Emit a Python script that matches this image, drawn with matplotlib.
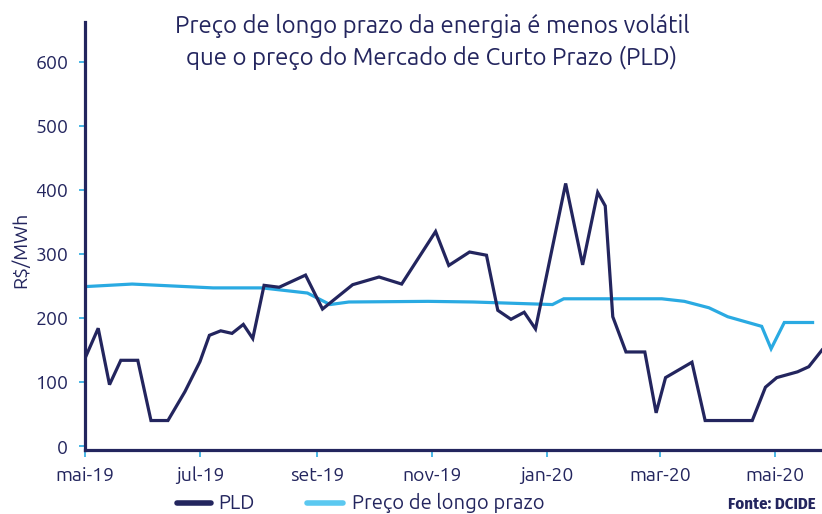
import numpy as np
import pandas as pd
import matplotlib.pyplot as plt
import matplotlib.dates as mdates
from matplotlib.lines import Line2D

plt.rcParams['font.family'] = ['Ubuntu', 'DejaVu Sans']

# PLD semanal (R$/MWh)
pld_datas = ['2019-05-01', '2019-05-08', '2019-05-14', '2019-05-20', '2019-05-29',
             '2019-06-05', '2019-06-14', '2019-06-23', '2019-07-01', '2019-07-06',
             '2019-07-12', '2019-07-18', '2019-07-24', '2019-07-29', '2019-08-04',
             '2019-08-12', '2019-08-26', '2019-09-04', '2019-09-20', '2019-10-04',
             '2019-10-16', '2019-11-03', '2019-11-10', '2019-11-21', '2019-11-30',
             '2019-12-06', '2019-12-13', '2019-12-20', '2019-12-26', '2020-01-11',
             '2020-01-20', '2020-01-28', '2020-02-01', '2020-02-05', '2020-02-12',
             '2020-02-22', '2020-02-28', '2020-03-04', '2020-03-18', '2020-03-25',
             '2020-04-19', '2020-04-26', '2020-05-02', '2020-05-13', '2020-05-19',
             '2020-05-26']
pld = [137, 184, 96, 134, 134,
       40, 40, 85, 132, 173,
       180, 176, 190, 168, 251,
       248, 267, 214, 252, 264,
       253, 335, 282, 303, 298,
       212, 198, 209, 183, 410,
       283, 396, 375, 202, 147,
       147, 52, 107, 131, 40,
       40, 92, 107, 116, 124,
       150]

# preço de longo prazo
lp_datas = ['2019-05-01', '2019-05-26', '2019-07-08', '2019-08-03', '2019-08-27',
            '2019-09-08', '2019-09-18', '2019-10-30', '2019-11-23', '2020-01-04',
            '2020-01-10', '2020-03-02', '2020-03-14', '2020-03-27', '2020-04-06',
            '2020-04-24', '2020-04-29', '2020-05-06', '2020-05-21']
longo_prazo = [249, 253, 247, 247, 239,
               221, 225, 226, 225, 221,
               230, 230, 226, 216, 202,
               187, 152, 193, 193]

meses = ['jan', 'fev', 'mar', 'abr', 'mai', 'jun', 'jul', 'ago', 'set', 'out', 'nov', 'dez']

azul_escuro = '#23255e'
azul_claro = '#2aaae2'
azul_legenda = '#5bc8f0'

W, H = 822, 514
fig = plt.figure(figsize=(W / 100, H / 100), dpi=100)
ax = fig.add_axes([85 / W, 64 / H, 737 / W, 428 / H])

ax.plot(pd.to_datetime(lp_datas), longo_prazo, color=azul_claro, lw=2.3, solid_joinstyle='miter')
ax.plot(pd.to_datetime(pld_datas), pld, color=azul_escuro, lw=2.3, solid_joinstyle='miter')

ax.set_xlim(pd.Timestamp('2019-05-01'), pd.Timestamp('2020-05-26'))
ax.set_ylim(-6, 662)
ax.set_yticks([0, 100, 200, 300, 400, 500, 600])

ax.xaxis.set_major_locator(mdates.MonthLocator(bymonth=[1, 3, 5, 7, 9, 11]))
ax.xaxis.set_major_formatter(plt.FuncFormatter(
    lambda v, p: f"{meses[mdates.num2date(v).month - 1]}-{mdates.num2date(v).year % 100}"))

for s in ['top', 'right']:
    ax.spines[s].set_visible(False)
for s in ['left', 'bottom']:
    ax.spines[s].set_color(azul_escuro)
    ax.spines[s].set_linewidth(2.3)

ax.tick_params(axis='both', colors=azul_claro, labelcolor=azul_escuro, labelsize=14,
               length=4, width=1.2)
ax.tick_params(axis='y', pad=8)
ax.tick_params(axis='x', pad=7, length=5)

fig.text(20 / W, 1 - 250 / H, 'R$/MWh', rotation=90, ha='center', va='center',
         fontsize=14, color=azul_escuro)

fig.text(432 / W, 1 - 33 / H, 'Preço de longo prazo da energia é menos volátil',
         ha='center', va='baseline', fontsize=17.3, color=azul_escuro)
fig.text(432 / W, 1 - 65 / H, 'que o preço do Mercado de Curto Prazo (PLD)',
         ha='center', va='baseline', fontsize=17.3, color=azul_escuro)

# legenda
y_leg = 1 - 503 / H
fig.add_artist(Line2D([177 / W, 211 / W], [y_leg, y_leg], transform=fig.transFigure,
                      color=azul_escuro, lw=4, solid_capstyle='round'))
fig.text(218 / W, y_leg, 'PLD', ha='left', va='center', fontsize=14.5, color=azul_escuro)
fig.add_artist(Line2D([307 / W, 343 / W], [y_leg, y_leg], transform=fig.transFigure,
                      color=azul_legenda, lw=4, solid_capstyle='round'))
fig.text(352 / W, y_leg, 'Preço de longo prazo', ha='left', va='center', fontsize=14.5,
         color=azul_escuro)

fig.text(816 / W, 1 - 504 / H, 'Fonte: DCIDE', ha='right', va='center',
         family=['Fira Sans Condensed', 'DejaVu Sans'], fontsize=12, fontweight='bold',
         color=azul_escuro)

fig.savefig('out.png', dpi=100)
